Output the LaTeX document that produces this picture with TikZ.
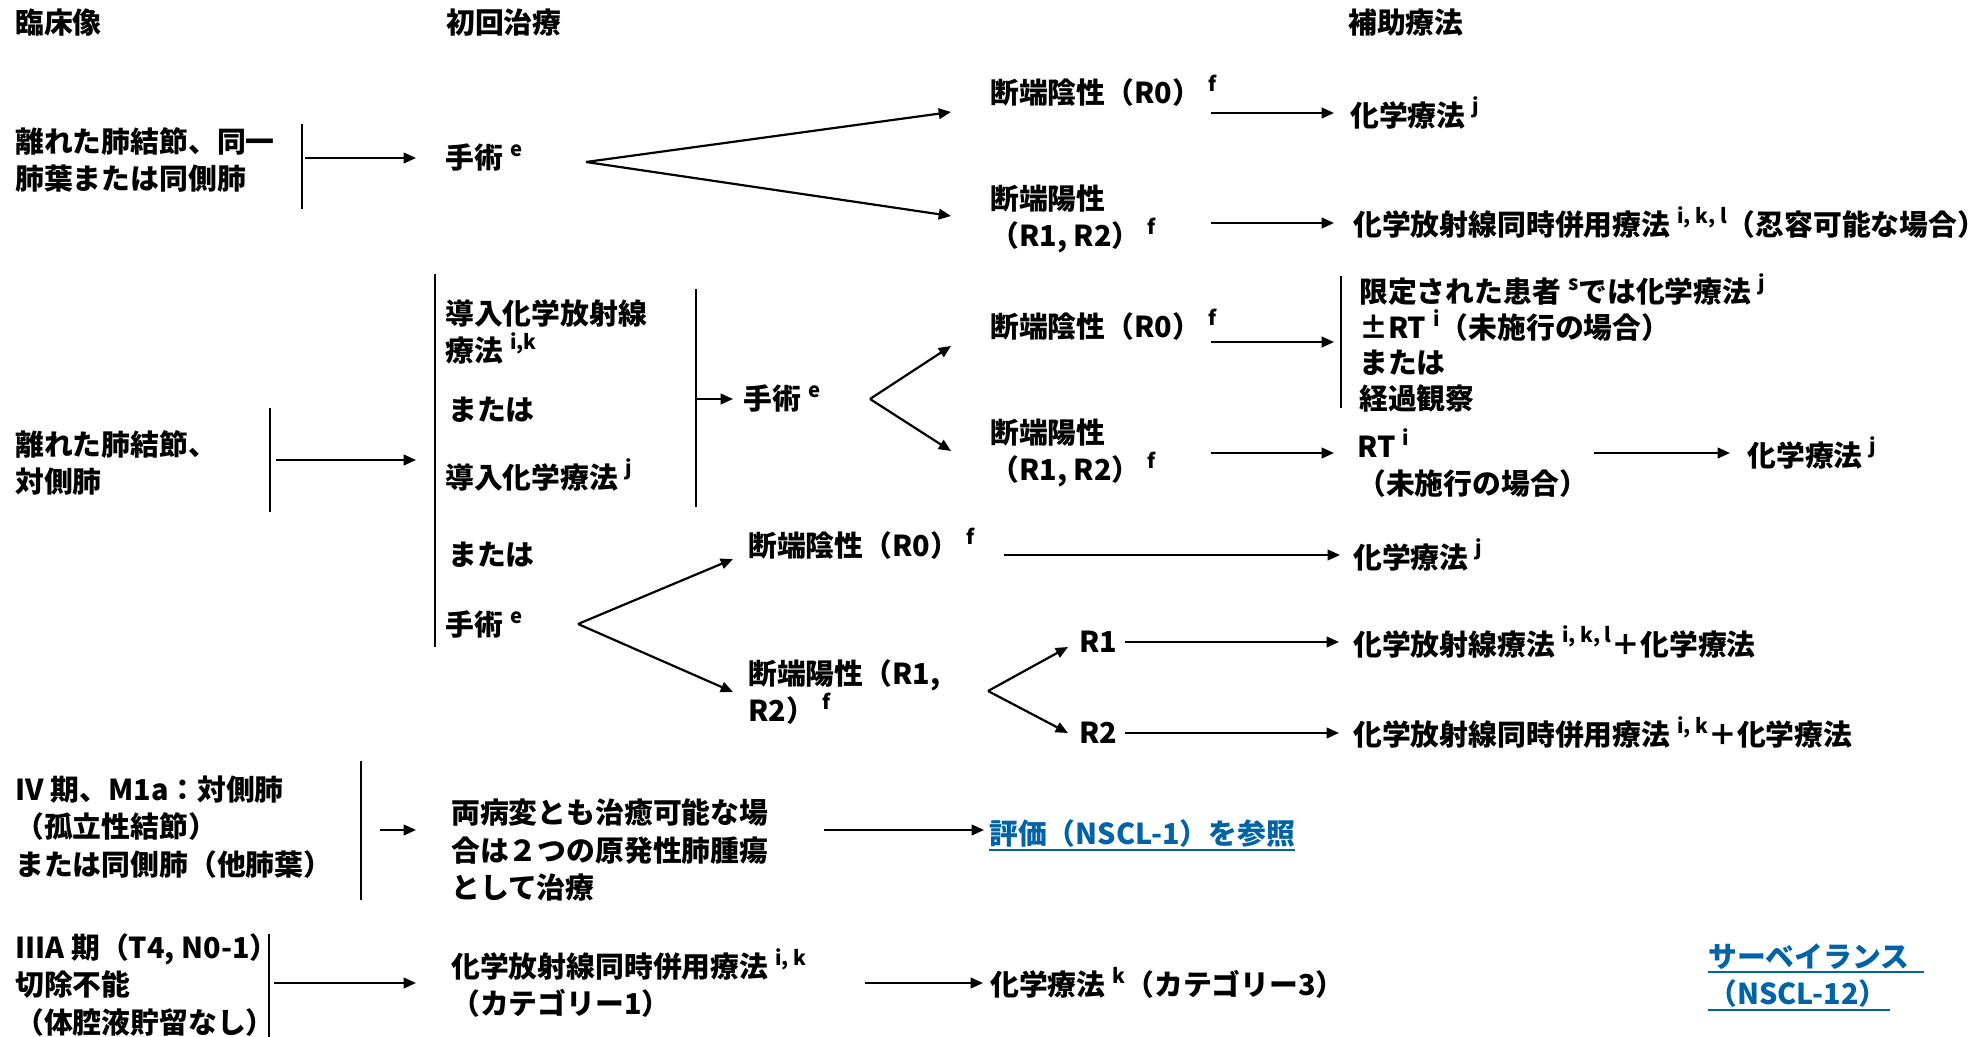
\documentclass[tikz,border=0pt]{standalone}
\usepackage{fontspec}
\setmainfont{Noto Sans CJK JP}
\usetikzlibrary{arrows.meta}
\definecolor{linkblue}{RGB}{0,99,166}
\newcommand\sps[1]{\hspace{4pt}\raisebox{0.42em}{\fontsize{11.5}{11.5}\selectfont #1}}
\newcommand\lpar{\kern-0.2em（}
\newcommand\rpar{）\kern-0.2em}
\begin{document}
\begin{tikzpicture}[x=0.02cm,y=-0.02cm,
  txt/.style={anchor=west,inner sep=0pt,align=left,font=\bfseries\fontsize{16.4}{21.4}\selectfont},
  tight/.style={font=\bfseries\fontsize{16.4}{20.4}\selectfont},
  link/.style={txt,text=linkblue},
  arr/.style={line width=1.25pt,-{Triangle[length=7pt,width=6pt]}},
  bar/.style={line width=1.15pt},
  uline/.style={linkblue,line width=1.6pt}]
\useasboundingbox (0,0) rectangle (1988,1037);
\fill[white] (0,0) rectangle (1988,1037);

% headers
\node[txt] (h1) at (15,23) {臨床像};
\node[txt] (h2) at (446,23) {初回治療};
\node[txt] (h3) at (1348,23) {補助療法};

% ---------- row 1
\node[txt] (c1) at (15,160) {離れた肺結節、同一\\肺葉または同側肺};
\coordinate (b1t) at (302,124); \coordinate (b1b) at (302,209);
\draw[bar] (b1t) -- (b1b);
\coordinate (a1s) at (305,158);
\node[txt] (s1) at (445,158) {手術\sps{e}};
\draw[arr,shorten >=0.58cm] (a1s) -- (s1.west);
\coordinate (fk1) at (586,162);
\coordinate (fk1a) at (951,112);
\coordinate (fk1b) at (951,216);
\draw[arr] (fk1) -- (fk1a);
\draw[arr] (fk1) -- (fk1b);
\node[txt] (r0a) at (990,91) {断端陰性（R0）\sps{f}};
\node[txt] (r12a) at (990,219) {断端陽性\\（R1, R2）\sps{f}};
\coordinate (x1s) at (1211,113);
\node[txt] (ch1) at (1350,113) {化学療法\sps{j}};
\draw[arr,shorten >=0.32cm] (x1s) -- (ch1.west);
\coordinate (x2s) at (1211,223);
\node[txt] (crt1) at (1353,223) {化学放射線同時併用療法\sps{i, k, l}（忍容可能な場合）};
\draw[arr,shorten >=0.38cm] (x2s) -- (crt1.west);

% ---------- row 2
\node[txt] (c2) at (15,463) {離れた肺結節、\\対側肺};
\coordinate (b2t) at (270,408); \coordinate (b2b) at (270,512);
\draw[bar] (b2t) -- (b2b);
\coordinate (a2s) at (276,460); \coordinate (a2e) at (416,460);
\draw[arr] (a2s) -- (a2e);
\coordinate (b3t) at (435,274); \coordinate (b3b) at (435,647);
\draw[bar] (b3t) -- (b3b);
\node[txt] (ind1) at (445,332) {導入化学放射線\\療法\sps{i,k}};
\node[txt] (or1) at (448,410) {または};
\node[txt] (ind2) at (445,475) {導入化学療法\sps{j}};
\coordinate (b4t) at (696,289); \coordinate (b4b) at (696,507);
\draw[bar] (b4t) -- (b4b);
\coordinate (a3s) at (696,399);
\node[txt] (s2) at (743,399) {手術\sps{e}};
\draw[arr,shorten >=0.2cm] (a3s) -- (s2.west);
\coordinate (fk2) at (870,399);
\coordinate (fk2a) at (951,346);
\coordinate (fk2b) at (951,451);
\draw[arr] (fk2) -- (fk2a);
\draw[arr] (fk2) -- (fk2b);
\node[txt] (r0b) at (990,325) {断端陰性（R0）\sps{f}};
\coordinate (x3s) at (1211,342); \coordinate (x3e) at (1334,342);
\draw[arr] (x3s) -- (x3e);
\coordinate (b5t) at (1341,276); \coordinate (b5b) at (1341,408);
\draw[bar] (b5t) -- (b5b);
\node[txt,tight] (opt) at (1359,343) {限定された患者\sps{s}では化学療法\sps{j}\\±RT\sps{i}（未施行の場合）\\または\\経過観察};
\node[txt] (r12b) at (990,453) {断端陽性\\（R1, R2）\sps{f}};
\coordinate (x4s) at (1211,453); \coordinate (x4e) at (1334,453);
\draw[arr] (x4s) -- (x4e);
\node[txt] (rt) at (1357,463) {RT\sps{i}\\（未施行の場合）};
\coordinate (x5s) at (1594,453);
\node[txt] (ch2) at (1747,453) {化学療法\sps{j}};
\draw[arr,shorten >=0.34cm] (x5s) -- (ch2.west);

\node[txt] (or2) at (448,555) {または};
\node[txt] (s3) at (445,625) {手術\sps{e}};
\coordinate (fk3) at (578,624);
\coordinate (fk3a) at (733,559);
\coordinate (fk3b) at (733,692);
\draw[arr] (fk3) -- (fk3a);
\draw[arr] (fk3) -- (fk3b);
\node[txt] (r0c) at (748,544) {断端陰性（R0）\sps{f}};
\coordinate (x6s) at (1004,555);
\node[txt] (ch3) at (1353,555) {化学療法\sps{j}};
\draw[arr,shorten >=0.26cm] (x6s) -- (ch3.west);
\node[txt] (r12c) at (748,692) {断端陽性（R1,\\R2）\sps{f}};
\coordinate (fk4) at (988,691);
\coordinate (fk4a) at (1068,647);
\coordinate (fk4b) at (1068,733);
\draw[arr] (fk4) -- (fk4a);
\draw[arr] (fk4) -- (fk4b);
\node[txt] (R1) at (1079,642) {R1};
\node[txt] (crt2) at (1353,642) {化学放射線療法\sps{i, k, l}＋化学療法};
\draw[arr,shorten >=0.28cm] ([xshift=0.15cm]R1.east) -- (crt2.west);
\node[txt] (R2) at (1079,733) {R2};
\node[txt] (crt3) at (1353,733) {化学放射線同時併用療法\sps{i, k}＋化学療法};
\draw[arr,shorten >=0.28cm] ([xshift=0.15cm]R2.east) -- (crt3.west);

% ---------- row 3
\node[txt] (c3) at (15,827) {IV 期、M1a：対側肺\\（孤立性結節）\\または同側肺（他肺葉\rpar};
\coordinate (b6t) at (361,761); \coordinate (b6b) at (361,900);
\draw[bar] (b6t) -- (b6b);
\coordinate (a4s) at (380,830); \coordinate (a4e) at (416,830);
\draw[arr] (a4s) -- (a4e);
\node[txt] (both) at (451,850) {両病変とも治癒可能な場\\合は２つの原発性肺腫瘍\\として治療};
\coordinate (a5s) at (824,830); \coordinate (a5e) at (984,830);
\draw[arr] (a5s) -- (a5e);
\node[link] (eval) at (989,834) {評価（NSCL-1）を参照};
\draw[uline] ([yshift=-1pt]eval.south west) -- ([yshift=-1pt]eval.south east);

% ---------- row 4
\node[txt] (c4) at (15,985) {IIIA 期（T4, N0-1\rpar\\切除不能\\（体腔液貯留なし\rpar};
\coordinate (b7t) at (269,934); \coordinate (b7b) at (269,1037);
\draw[bar] (b7t) -- (b7b);
\coordinate (a6s) at (274,983);
\node[txt] (crt4) at (451,983) {化学放射線同時併用療法\sps{i, k}\\（カテゴリー1）};
\draw[arr,shorten >=0.7cm] (a6s) -- (crt4.west);
\coordinate (a7s) at (865,983);
\node[txt] (ch4) at (990,983) {化学療法\sps{k}（カテゴリー3）};
\draw[arr,shorten >=0.14cm] (a7s) -- (ch4.west);
\node[link,text width=4.3cm] (sv1) at (1708,957) {サーベイランス};
\node[link,text width=3.62cm] (sv2) at (1708,994) {（NSCL-12）};
\draw[uline] ([yshift=-1pt]sv1.south west) -- ([yshift=-1pt]sv1.south east);
\draw[uline] ([yshift=-1pt]sv2.south west) -- ([yshift=-1pt]sv2.south east);
\end{tikzpicture}
\end{document}
